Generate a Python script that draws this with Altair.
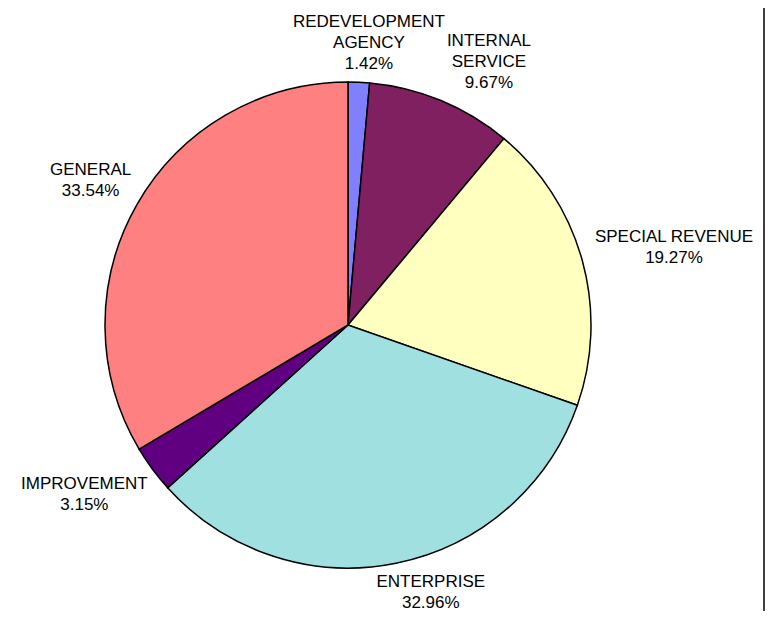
import altair as alt
import pandas as pd

# ---- data ----
names = ["REDEVELOPMENT\nAGENCY", "INTERNAL\nSERVICE", "SPECIAL REVENUE",
         "ENTERPRISE", "IMPROVEMENT", "GENERAL"]
shares = [1.42, 9.67, 19.27, 32.96, 3.15, 33.54]
colors = ["#8080FF", "#802060", "#FFFFC0", "#A0E0E0", "#600080", "#FF8080"]

# ---- layout constants ----
W, H = 757, 603
CX, CY, R = 340, 317, 243
GAP = 8
CHAR_W = 11.2
LINE_H = 21

df = pd.DataFrame({"name": names, "share": shares, "idx": list(range(len(names)))})
df["label"] = df["name"] + "\n" + df["share"].map(lambda v: f"{v:.2f}%")
df["maxlen"] = df["label"].map(lambda s: max(len(t) for t in s.split("\n")))
df["nlines"] = df["label"].map(lambda s: len(s.split("\n")))

base = alt.Chart(df)

pie = base.mark_arc(stroke="black", strokeWidth=1.5).encode(
    theta=alt.Theta("share:Q", stack=True),
    order=alt.Order("idx:Q"),
    color=alt.Color("name:N", scale=alt.Scale(domain=names, range=colors), legend=None),
    x=alt.value(CX),
    y=alt.value(CY),
    radius=alt.value(R),
)

labels = base.transform_joinaggregate(
    total="sum(share)"
).transform_window(
    cum="sum(share)", sort=[alt.SortField("idx")], frame=[None, 0]
).transform_calculate(
    mid="(datum.cum - datum.share/2) / datum.total * 2 * PI"
).transform_calculate(
    lx=f"{CX} + {R + GAP}*sin(datum.mid) + datum.maxlen*{CHAR_W}/2*clamp(3*sin(datum.mid), -1, 1)",
    ly=(f"{CY} - {R + GAP}*cos(datum.mid) - datum.nlines*{LINE_H}/2*clamp(2*cos(datum.mid), -1, 1)"
        f" - (datum.nlines - 1)*{LINE_H}/2"),
).mark_text(
    font="Liberation Sans", fontSize=17, lineBreak="\n", lineHeight=LINE_H,
    align="center", baseline="middle", color="black"
).encode(
    x=alt.X("lx:Q", scale=None),
    y=alt.Y("ly:Q", scale=None),
    text="label:N",
)

frame = alt.Chart(pd.DataFrame({"k": [0]})).mark_rule(color="black", strokeWidth=1.5).encode(
    x=alt.value(W - 1), y=alt.value(-8), y2=alt.value(H)
)

chart = alt.layer(pie, labels, frame).properties(
    width=W, height=H, padding=0, autosize="none", background="white"
).configure_view(stroke=None)

chart.save("out.html", embed_options={"renderer": "svg", "actions": False})
